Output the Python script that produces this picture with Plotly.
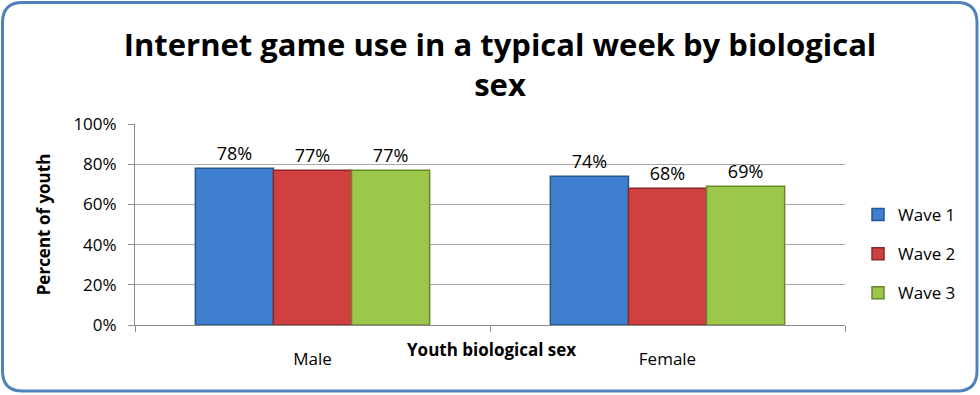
import plotly.graph_objects as go

categories = ["Male", "Female"]
series_names = ["Wave 1", "Wave 2", "Wave 3"]
wave1 = [78, 74]
wave2 = [77, 68]
wave3 = [77, 69]
y_ticks = [0, 20, 40, 60, 80, 100]
y_tick_labels = ["0%", "20%", "40%", "60%", "80%", "100%"]

fills = ["#3F7FCF", "#D14040", "#9DC74B"]
edges = ["#27578F", "#8C2828", "#68882E"]
FONT = "Open Sans, Liberation Sans"

W, H = 980, 395
L, R, T, B = 135, 845, 124, 325

fig = go.Figure()
for name, vals, fc, ec in zip(series_names, [wave1, wave2, wave3], fills, edges):
    fig.add_trace(go.Bar(
        x=categories, y=vals, name=name, legendgroup=name,
        marker=dict(color=fc, line=dict(color=ec, width=1.5)),
        text=[f"{v}%" for v in vals], textposition="outside",
        textfont=dict(family=FONT, size=18, color="#000000"),
        cliponaxis=False,
    ))

# rounded border around whole chart
def px2paper(px, py):
    return (px - L) / (R - L), (B - py) / (B - T)

def P(px, py):
    a, b = px2paper(px, py)
    return f"{a:.5f},{b:.5f}"

x0, y0, x1, y1, r = 2.5, 2.5, 977, 391, 20
path = (f"M {P(x0 + r, y0)} L {P(x1 - r, y0)} Q {P(x1, y0)} {P(x1, y0 + r)} "
        f"L {P(x1, y1 - r)} Q {P(x1, y1)} {P(x1 - r, y1)} "
        f"L {P(x0 + r, y1)} Q {P(x0, y1)} {P(x0, y1 - r)} "
        f"L {P(x0, y0 + r)} Q {P(x0, y0)} {P(x0 + r, y0)} Z")
fig.add_shape(type="path", xref="paper", yref="paper", path=path,
              line=dict(color="#4F81BD", width=3), layer="above")

fig.add_annotation(text="<b>Youth biological sex</b>", xref="paper", yref="paper",
                   x=(491 - L) / (R - L), y=(B - 363) / (B - T), showarrow=False,
                   font=dict(family=FONT, size=17, color="#000000"))

fig.update_layout(
    width=W, height=H,
    margin=dict(l=L, r=W - R, t=T, b=H - B),
    paper_bgcolor="white", plot_bgcolor="white",
    title=dict(text="<b>Internet game use in a typical week by biological<br>sex</b>",
               x=500 / W, xref="container", xanchor="center", y=1 - 56 / H, yanchor="middle",
               font=dict(family=FONT, size=31, color="#000000")),
    barmode="group", bargap=0.34, bargroupgap=0,
    showlegend=True,
    legend=dict(x=(858 - L) / (R - L), y=(B - 254) / (B - T), xanchor="left", yanchor="middle",
                font=dict(family=FONT, size=17, color="#000000"),
                tracegroupgap=14, bgcolor="rgba(0,0,0,0)"),
    xaxis=dict(showline=True, linecolor="#8C8C8C", linewidth=1, ticks="outside",
               tickson="boundaries", ticklen=6, tickcolor="#8C8C8C",
               tickfont=dict(family=FONT, size=17, color="#000000"),
               ticklabelstandoff=19, showgrid=False),
    yaxis=dict(range=[0, 100], tickvals=y_ticks, ticktext=y_tick_labels,
               showline=True, linecolor="#8C8C8C", linewidth=1, ticks="outside",
               ticklen=6, tickcolor="#8C8C8C", showgrid=True, gridcolor="#A6A6A6", gridwidth=1,
               tickfont=dict(family=FONT, size=17, color="#000000"),
               ticklabelstandoff=8,
               title=dict(text="<b>Percent of youth</b>", standoff=18,
                          font=dict(family=FONT, size=17, color="#000000"))),
)

fig.write_html("out.html", config={"displayModeBar": False},
               post_script="document.body.style.margin='0';")
